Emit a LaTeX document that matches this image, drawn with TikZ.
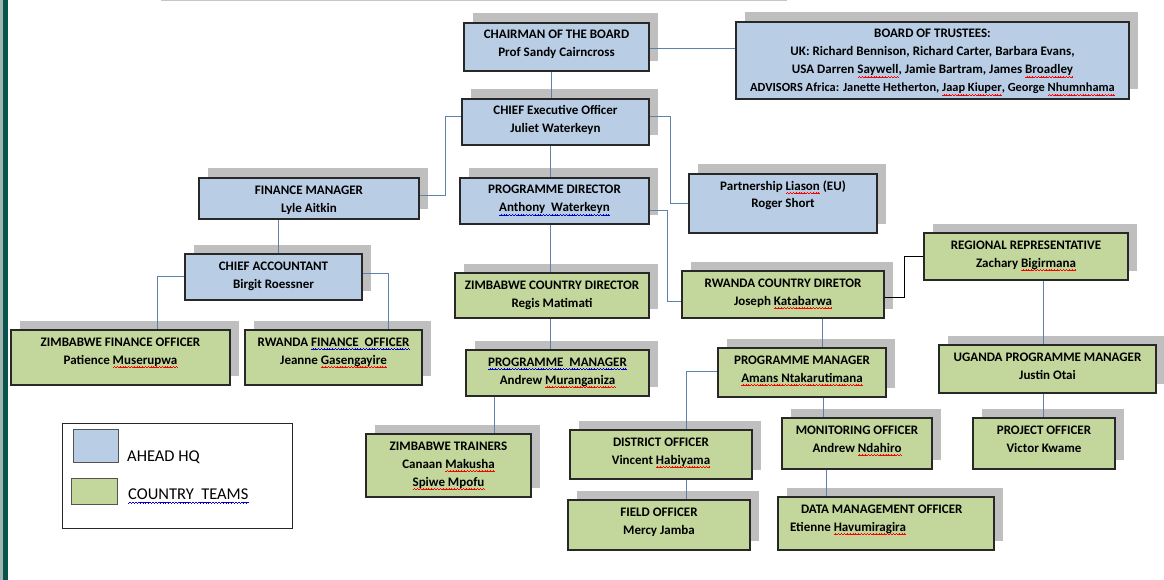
\documentclass[tikz,border=0pt]{standalone}
\usepackage{fontspec}
\setmainfont{Carlito}
\usetikzlibrary{shadows,calc}
\definecolor{hqColor}{RGB}{185,205,229}
\definecolor{ctColor}{RGB}{195,214,155}
\definecolor{shColor}{RGB}{191,191,191}
\definecolor{lnColor}{RGB}{95,130,170}
\definecolor{bdColor}{RGB}{40,40,40}
\definecolor{barColor}{RGB}{12,82,76}
\definecolor{edgeColor}{RGB}{160,180,175}
% squiggly underline made of small rules
\newcommand{\wavy}[2]{\setbox0\hbox{#2}\leavevmode\rlap{\hbox to\wd0{\color{#1}\xleaders\hbox{\rule[-3.7pt]{0.7pt}{0.6pt}\rule[-3.2pt]{0.7pt}{0.6pt}\rule[-2.7pt]{0.7pt}{0.6pt}\rule[-3.2pt]{0.7pt}{0.6pt}}\hfil}}\box0\relax}
\newcommand{\spell}[1]{\wavy{red}{#1}}
\newcommand{\gram}[1]{\wavy{blue!80!black}{#1}}
\newcommand{\boxtext}[3]{\parbox[c][#2pt][t]{#1pt}{\centering\rule{0pt}{16pt}#3}}
\tikzset{
	org box/.style={draw=bdColor, line width=1.2pt, inner sep=0pt,
		font=\fontsize{13}{18}\selectfont\bfseries,
		drop shadow={shadow xshift=9pt, shadow yshift=9.5pt, fill=shColor, opacity=1, draw=none}},
	hq box/.style={org box, fill=hqColor},
	ct box/.style={org box, fill=ctColor},
	link/.style={draw=lnColor, line width=0.9pt},
	key box/.style={draw=bdColor!80, line width=0.8pt, inner sep=0pt},
	key label/.style={anchor=west, inner sep=0pt, font=\fontsize{16.5}{20}\selectfont}
}

\begin{document}
\begin{tikzpicture}[x=1pt,y=-1pt]
	\useasboundingbox (0,0) rectangle (1164,580);
	% page edge
	\fill[edgeColor] (0,0) rectangle (2.7,580);
	\fill[barColor] (2.7,0) rectangle (8,580);
	\draw[black!22, line width=1.5pt] (161,0.5) -- (787,0.5);
	% headquarters
	\node[hq box] (chair) at (556.5,47) {\boxtext{185}{48}{CHAIRMAN OF THE BOARD\\Prof Sandy Cairncross}};
	\node[hq box] (board) at (932.5,60.5) {\boxtext{393}{77}{BOARD OF TRUSTEES:\\UK: Richard Bennison, Richard Carter, Barbara Evans,\\USA Darren \spell{Saywell}, Jamie Bartram, James \spell{Broadley}\\{\fontsize{12.4}{18}\selectfont ADVISORS Africa: Janette Hetherton, \spell{Jaap Kiuper}, George \spell{Nhumnhama}}}};
	\node[hq box] (ceo) at (555.5,122) {\boxtext{187}{46}{CHIEF Executive Officer\\Juliet Waterkeyn}};
	\node[hq box] (fin_mgr) at (309,198.5) {\boxtext{220}{41}{FINANCE MANAGER\\Lyle Aitkin}};
	\node[hq box] (prog_dir) at (554.5,201) {\boxtext{189}{46}{PROGRAMME DIRECTOR\\\gram{Anthony\ \ Waterkeyn}}};
	\node[hq box] (partner) at (783,203.5) {\boxtext{188}{59}{Partnership \spell{Liason} (EU)\\Roger Short}};
	\node[hq box] (accountant) at (273.5,277) {\boxtext{177}{46}{CHIEF ACCOUNTANT\\Birgit Roessner}};
	% country teams
	\node[ct box] (zim_fin) at (120.5,357.5) {\boxtext{219}{55}{ZIMBABWE FINANCE OFFICER\\Patience \spell{Muserupwa}}};
	\node[ct box] (rw_fin) at (333.5,357.5) {\boxtext{177}{55}{RWANDA \gram{FINANCE\ \ OFFICER}\\Jeanne \spell{Gasengayire}}};
	\node[ct box] (zim_dir) at (552,295.5) {\boxtext{194}{45}{ZIMBABWE COUNTRY DIRECTOR\\Regis Matimati}};
	\node[ct box] (rw_dir) at (783,294.5) {\boxtext{202}{47}{RWANDA COUNTRY DIRETOR\\Joseph \spell{Katabarwa}}};
	\node[ct box] (reg_rep) at (1026,256.5) {\boxtext{204}{47}{REGIONAL REPRESENTATIVE\\Zachary \spell{Bigirmana}}};
	\node[ct box] (zim_pm) at (557.5,373) {\boxtext{183}{46}{\gram{PROGRAMME\ \ MANAGER}\\Andrew \spell{Muranganiza}}};
	\node[ct box] (rw_pm) at (802,372.5) {\boxtext{168}{49}{PROGRAMME MANAGER\\\spell{Amans Ntakarutimana}}};
	\node[ct box] (ug_pm) at (1047.5,369) {\boxtext{217}{48}{UGANDA PROGRAMME MANAGER\\Justin Otai}};
	\node[ct box] (trainers) at (448.5,465.5) {\boxtext{165}{63}{ZIMBABWE TRAINERS\\Canaan \spell{Makusha}\\\spell{Spiwe Mpofu}}};
	\node[ct box] (district) at (661,454.5) {\boxtext{182}{49}{DISTRICT OFFICER\\Vincent \spell{Habiyama}}};
	\node[ct box] (monitor) at (857,443.5) {\boxtext{150}{51}{MONITORING OFFICER\\Andrew \spell{Ndahiro}}};
	\node[ct box] (project) at (1044,443.5) {\boxtext{142}{51}{PROJECT OFFICER\\Victor Kwame}};
	\node[ct box] (field) at (659,525) {\boxtext{182}{50}{FIELD OFFICER\\Mercy Jamba}};
	\node[ct box] (data_mgr) at (886,523.5) {\parbox[c][53pt][t]{216pt}{\raggedright\rule{0pt}{16pt}\hspace*{23pt}DATA MANAGEMENT OFFICER\\\hspace*{12pt}Etienne \spell{Havumiragira}}};
	% reporting lines
	\draw[link] ([xshift=-5.5pt]chair.south) -- ([xshift=-4.5pt]ceo.north);
	\draw[link] ([yshift=-1pt]chair.east) -- ([yshift=-1pt]chair.east -| board.west);
	\draw[link] ([yshift=6pt]ceo.west) -- ++(-16,0) |- ([yshift=3.5pt]fin_mgr.east);
	\draw[link] ([yshift=6pt]ceo.east) -- ++(21,0) |- (partner.west);
	\draw[link] ([xshift=-5pt]ceo.south) -- ([xshift=-4pt]prog_dir.north);
	\draw[link] ([xshift=-31pt]fin_mgr.south) -- ([xshift=4.5pt]accountant.north);
	\draw[link] ([yshift=1pt]accountant.west) -| ([xshift=36.5pt]zim_fin.north);
	\draw[link] ([yshift=4pt]accountant.east) -| ([xshift=54.5pt]rw_fin.north);
	\draw[link] ([xshift=-4.5pt]prog_dir.south) -- ([xshift=-2pt]zim_dir.north);
	\draw[link] ([yshift=-9pt]prog_dir.east) -- ++(18,0) |- ([yshift=-6.5pt]rw_dir.west);
	\draw[link] ([xshift=-2pt]zim_dir.south) -- ([xshift=-7.5pt]zim_pm.north);
	\draw[link] ([xshift=-63.5pt]zim_pm.south) -- ([xshift=45.5pt]trainers.north);
	\draw[black, line width=0.9pt] ([yshift=-2.5pt]rw_dir.east) -- ++(20,0) |- (reg_rep.west);
	\draw[link] ([xshift=39pt]rw_dir.south) -- ([xshift=20pt]rw_pm.north);
	\draw[link] ([yshift=1.5pt]rw_pm.west) -| ([xshift=25pt]district.north);
	\draw[link] ([xshift=25pt]district.south) -- ([xshift=27pt]field.north);
	\draw[link] ([xshift=21pt]rw_pm.south) -- ([xshift=-34pt]monitor.north);
	\draw[link] ([xshift=-31pt]monitor.south) -- ([xshift=-60pt]data_mgr.north);
	\draw[link] ([xshift=17pt]reg_rep.south) -- ([xshift=-4.5pt]ug_pm.north);
	\draw[link] ([xshift=-4.5pt]ug_pm.south) -- ([xshift=-1pt]project.north);
	% legend
	\node[draw=bdColor, line width=0.9pt, minimum width=230pt, minimum height=105pt, inner sep=0pt] (legend) at (177,475.5) {};
	\node[key box, fill=hqColor, minimum width=45pt, minimum height=33pt] (key_hq) at (95.5,445.5) {};
	\node[key box, fill=ctColor, minimum width=46pt, minimum height=26pt] (key_ct) at (94,491) {};
	\node[key label] (lab_hq) at (127,457) {AHEAD HQ};
	\node[key label] (lab_ct) at (128,496) {\gram{COUNTRY\ \ TEAMS}};
\end{tikzpicture}
\end{document}
